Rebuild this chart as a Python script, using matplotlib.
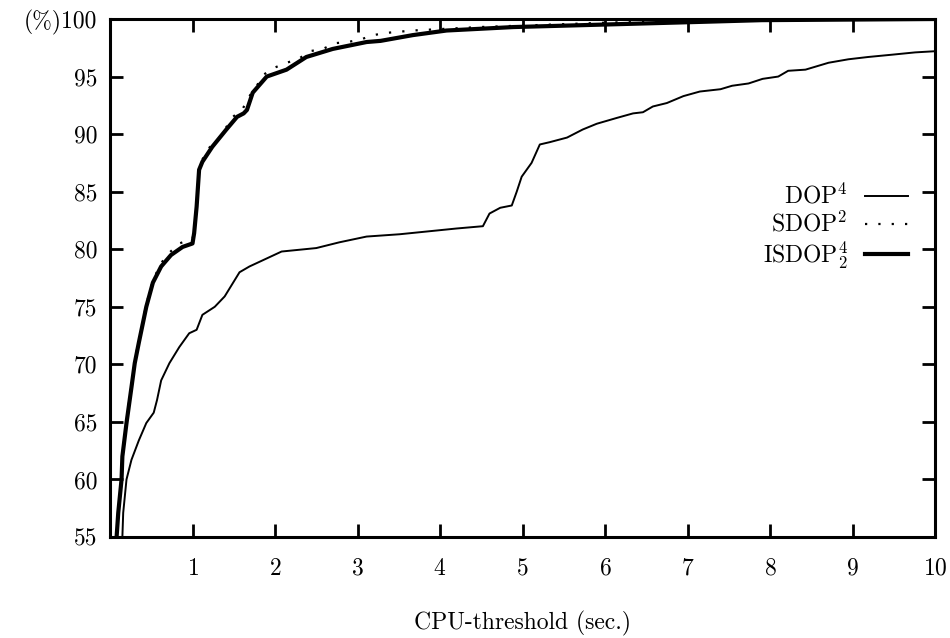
import matplotlib
matplotlib.use("Agg")
import matplotlib.pyplot as plt

plt.rcParams["font.family"] = "serif"
plt.rcParams["font.serif"] = ["cmr10"]
plt.rcParams["mathtext.fontset"] = "cm"
plt.rcParams["axes.formatter.use_mathtext"] = True

# DOP^4 (thin solid)
dop_x = [0.15, 0.16, 0.20, 0.26, 0.35, 0.44, 0.53, 0.57, 0.62, 0.72, 0.84, 0.96, 1.05, 1.12,
         1.27, 1.39, 1.57, 1.69, 1.90, 2.08, 2.50, 2.78, 3.11, 3.51, 4.20, 4.52, 4.60, 4.73,
         4.87, 4.93, 4.99, 5.11, 5.21, 5.33, 5.54, 5.73, 5.90, 6.14, 6.34, 6.46, 6.58, 6.75,
         6.95, 7.15, 7.40, 7.54, 7.74, 7.91, 8.10, 8.22, 8.43, 8.71, 8.95, 9.19, 9.48, 9.76, 10.0]
dop_y = [55.0, 57.1, 60.0, 61.7, 63.4, 64.9, 65.8, 66.9, 68.6, 70.1, 71.5, 72.7, 73.0, 74.3,
         75.0, 75.9, 78.0, 78.5, 79.2, 79.8, 80.1, 80.6, 81.1, 81.3, 81.8, 82.0, 83.1, 83.6,
         83.8, 85.0, 86.3, 87.5, 89.1, 89.3, 89.7, 90.4, 90.9, 91.4, 91.8, 91.9, 92.4, 92.7,
         93.3, 93.7, 93.9, 94.2, 94.4, 94.8, 95.0, 95.5, 95.6, 96.2, 96.5, 96.7, 96.9, 97.1, 97.2]

# SDOP^2 (dotted)
sdop_x = [0.08, 0.10, 0.14, 0.15, 0.20, 0.26, 0.30, 0.35, 0.44, 0.52, 0.62, 0.72, 0.84, 1.00,
          1.02, 1.05, 1.08, 1.12, 1.20, 1.31, 1.49, 1.61, 1.67, 1.78, 1.85, 1.97, 2.14, 2.28,
          2.42, 2.58, 2.73, 2.88, 3.03, 3.19, 3.36, 3.67, 4.48, 5.29, 6.10, 6.91, 7.50, 8.00, 10.0]
sdop_y = [55.0, 57.3, 60.2, 62.2, 65.1, 68.2, 70.3, 72.1, 75.2, 77.3, 78.8, 79.7, 80.5, 80.9,
          81.6, 83.9, 87.1, 87.8, 88.8, 89.5, 91.5, 92.2, 93.1, 94.2, 95.1, 95.7, 96.2, 96.5,
          97.2, 97.4, 97.9, 98.0, 98.2, 98.6, 98.8, 99.0, 99.3, 99.5, 99.7, 99.8, 99.95, 100.0, 100.0]

# ISDOP_2^4 (thick solid)
isdop_x = [0.08, 0.10, 0.14, 0.15, 0.20, 0.26, 0.30, 0.35, 0.44, 0.52, 0.62, 0.74, 0.88, 1.00,
           1.02, 1.05, 1.08, 1.12, 1.24, 1.41, 1.54, 1.62, 1.66, 1.73, 1.90, 2.14, 2.38, 2.70,
           3.11, 3.28, 3.67, 4.08, 4.89, 5.90, 6.91, 7.90, 10.0]
isdop_y = [55.0, 57.1, 60.0, 62.0, 64.9, 68.0, 70.1, 71.9, 75.0, 77.1, 78.5, 79.5, 80.2, 80.5,
           81.4, 83.7, 86.9, 87.6, 88.9, 90.4, 91.5, 91.8, 92.1, 93.6, 95.0, 95.6, 96.7, 97.4,
           98.0, 98.1, 98.6, 99.0, 99.3, 99.5, 99.7, 99.9, 100.0]

xticks = list(range(1, 11))
yticks = list(range(55, 101, 5))
ytick_labels = ["55", "60", "65", "70", "75", "80", "85", "90", "95", "(%)100"]

fig = plt.figure(figsize=(9.5, 6.38), dpi=100)
ax = fig.add_axes([110 / 950, 1 - 537 / 638, 825 / 950, 518 / 638])

ax.plot(dop_x, dop_y, color="black", lw=1.4, label="DOP$^4$")
ax.plot(sdop_x, sdop_y, color="black", lw=1.6, linestyle=(0, (1, 5)), label="SDOP$^2$")
ax.plot(isdop_x, isdop_y, color="black", lw=3.0, label="ISDOP$_2^4$")

ax.set_xlim(0, 10)
ax.set_ylim(55, 100)
ax.set_xticks(xticks)
ax.set_yticks(yticks)
ax.set_yticklabels(ytick_labels)
ax.tick_params(direction="in", length=9.5, width=2, top=True, right=True, labelsize=17)
ax.tick_params(axis="x", pad=15)
ax.tick_params(axis="y", pad=9)
for s in ax.spines.values():
    s.set_linewidth(2.2)

ax.set_xlabel("CPU-threshold (sec.)", fontsize=17, labelpad=22)

leg = ax.legend(loc="center right", bbox_to_anchor=(0.967, 0.598), frameon=False,
                markerfirst=False, fontsize=17, handlelength=1.8, handletextpad=0.75,
                labelspacing=0.12, borderpad=0, borderaxespad=0)

fig.savefig("out.png", dpi=100)
